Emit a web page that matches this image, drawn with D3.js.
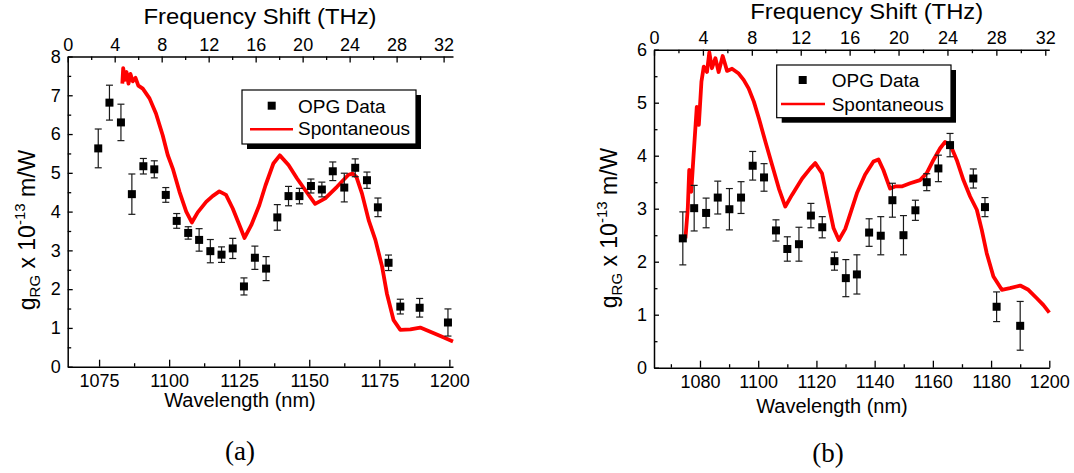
<!DOCTYPE html>
<html>
<head>
<meta charset="utf-8">
<script src="https://cdn.jsdelivr.net/npm/d3@7"></script>
<style>
  html, body { margin: 0; padding: 0; background: #ffffff; }
  svg { display: block; }
  text { font-family: "Liberation Sans", Arial, sans-serif; fill: #000; }
</style>
</head>
<body>
<script>
// ---------------- DATA ----------------
// Panel (a): OPG data
const opgA_wavelength = [1074.7, 1078.7, 1082.8, 1086.7, 1090.8, 1094.7, 1098.8, 1102.7, 1106.8, 1110.7, 1114.7, 1118.7, 1122.7, 1126.7, 1130.6, 1134.6, 1138.6, 1142.6, 1146.5, 1150.6, 1154.5, 1158.4, 1162.5, 1166.4, 1170.6, 1174.5, 1178.3, 1182.5, 1189.4, 1199.5];
const opgA_gain = [5.63, 6.81, 6.30, 4.45, 5.17, 5.09, 4.43, 3.76, 3.45, 3.27, 2.98, 2.89, 3.05, 2.07, 2.81, 2.53, 3.85, 4.40, 4.40, 4.66, 4.57, 5.04, 4.62, 5.13, 4.81, 4.11, 2.68, 1.55, 1.52, 1.14];
const opgA_error = [0.50, 0.45, 0.47, 0.52, 0.20, 0.22, 0.19, 0.19, 0.16, 0.29, 0.30, 0.20, 0.26, 0.22, 0.30, 0.31, 0.33, 0.25, 0.20, 0.18, 0.19, 0.24, 0.37, 0.23, 0.21, 0.24, 0.20, 0.19, 0.24, 0.35];
// Panel (a): spontaneous curve
const spontA_wavelength = [1083.3, 1083.6, 1084.2, 1084.8, 1085.5, 1086.2, 1087.0, 1088.0, 1089.0, 1090.6, 1093.0, 1095.3, 1097.7, 1099.5, 1101.3, 1103.7, 1106.1, 1108.1, 1110.2, 1113.2, 1115.5, 1117.9, 1120.3, 1122.7, 1125.1, 1126.9, 1129.3, 1132.2, 1134.4, 1137.2, 1139.5, 1142.6, 1145.6, 1148.6, 1152.1, 1155.7, 1159.9, 1164.0, 1165.5, 1166.8, 1168.8, 1171.2, 1173.6, 1176.0, 1177.7, 1180.1, 1182.5, 1186.1, 1189.6, 1193.2, 1196.8, 1201.3];
const spontA_gain = [7.30, 7.70, 7.40, 7.60, 7.30, 7.55, 7.36, 7.45, 7.25, 7.17, 6.92, 6.53, 5.97, 5.46, 5.11, 4.51, 4.00, 3.72, 3.98, 4.25, 4.40, 4.52, 4.43, 4.08, 3.65, 3.32, 3.65, 4.17, 4.68, 5.24, 5.45, 5.20, 4.86, 4.55, 4.20, 4.34, 4.64, 4.95, 4.98, 4.90, 4.47, 3.78, 3.27, 2.58, 1.89, 1.20, 0.95, 0.96, 1.01, 0.90, 0.79, 0.65];

// Panel (b): OPG data
const opgB_wavelength = [1074.1, 1078.0, 1082.1, 1086.1, 1090.1, 1094.1, 1098.1, 1102.0, 1106.1, 1110.0, 1114.0, 1118.1, 1122.0, 1126.2, 1130.1, 1133.9, 1138.1, 1142.1, 1146.1, 1149.9, 1154.0, 1157.9, 1161.9, 1165.9, 1173.9, 1177.9, 1181.9, 1190.0];
const opgB_gain = [2.44, 3.01, 2.92, 3.21, 2.99, 3.21, 3.81, 3.59, 2.59, 2.24, 2.33, 2.87, 2.65, 2.01, 1.69, 1.76, 2.55, 2.49, 3.16, 2.50, 2.97, 3.50, 3.76, 4.20, 3.57, 3.03, 1.15, 0.79];
const opgB_error = [0.50, 0.43, 0.28, 0.31, 0.39, 0.30, 0.27, 0.26, 0.20, 0.23, 0.32, 0.23, 0.20, 0.17, 0.35, 0.37, 0.26, 0.36, 0.32, 0.37, 0.19, 0.16, 0.25, 0.22, 0.18, 0.18, 0.28, 0.46];
// Panel (b): spontaneous curve
const spontB_wavelength = [1075.0, 1075.8, 1076.3, 1077.0, 1077.8, 1078.9, 1079.6, 1080.5, 1081.3, 1082.4, 1083.2, 1084.1, 1085.3, 1086.4, 1087.8, 1089.3, 1091.0, 1093.3, 1095.0, 1096.7, 1098.5, 1100.2, 1102.5, 1104.8, 1107.1, 1109.3, 1111.6, 1115.1, 1117.9, 1119.6, 1121.9, 1124.2, 1125.9, 1127.7, 1129.9, 1131.0, 1133.9, 1136.7, 1139.6, 1141.3, 1143.0, 1145.3, 1147.0, 1149.3, 1152.2, 1155.6, 1157.9, 1160.2, 1162.5, 1164.2, 1166.5, 1168.2, 1170.5, 1172.8, 1175.1, 1176.8, 1178.5, 1180.8, 1183.7, 1186.5, 1190.0, 1192.8, 1195.7, 1198.0, 1200.0];
const spontB_gain = [2.44, 3.00, 3.73, 3.32, 4.01, 4.92, 4.58, 5.40, 5.68, 5.58, 5.95, 5.65, 5.84, 5.58, 5.88, 5.60, 5.64, 5.55, 5.43, 5.27, 5.02, 4.71, 4.26, 3.82, 3.38, 3.04, 3.26, 3.57, 3.76, 3.86, 3.67, 3.07, 2.63, 2.41, 2.62, 2.80, 3.29, 3.64, 3.89, 3.93, 3.73, 3.38, 3.42, 3.42, 3.48, 3.54, 3.67, 3.92, 4.14, 4.26, 4.14, 3.92, 3.54, 3.23, 2.98, 2.60, 2.16, 1.72, 1.47, 1.50, 1.55, 1.47, 1.31, 1.18, 1.04];

// Tick labels
const bottomTicksA = [1075, 1100, 1125, 1150, 1175, 1200];
const bottomTicksB = [1080, 1100, 1120, 1140, 1160, 1180, 1200];
const topTicks = [0, 4, 8, 12, 16, 20, 24, 28, 32];
const leftTicksA = [0, 1, 2, 3, 4, 5, 6, 7, 8];
const leftTicksB = [0, 1, 2, 3, 4, 5, 6];
const legendLabels = ["OPG Data", "Spontaneous"];
const panelLabels = ["(a)", "(b)"];

// ---------------- DRAWING ----------------
const svg = d3.select("body").append("svg").attr("width", 1074).attr("height", 473);

function drawPanel(cfg) {
  const x = d3.scaleLinear().domain(cfg.xDomain).range(cfg.xRange);
  const y = d3.scaleLinear().domain(cfg.yDomain).range(cfg.yRange);
  const xt = d3.scaleLinear().domain(cfg.topDomain).range(cfg.xRange);
  const g = svg.append("g");
  const x0 = cfg.xRange[0], yb = cfg.yRange[0], yt = cfg.yRange[1];

  function styleAxis(sel) {
    sel.selectAll(".domain").attr("stroke", "#000").attr("stroke-width", 1.5);
    sel.selectAll(".tick line").attr("stroke", "#000").attr("stroke-width", 1.3);
    sel.selectAll("text").attr("font-size", 18).attr("font-family", "Liberation Sans, Arial, sans-serif").attr("fill", "#000");
  }

  // minor ticks
  const bMinor = g.append("g").attr("transform", `translate(0,${yb})`)
    .call(d3.axisBottom(x).tickValues(cfg.bottomMinor).tickSize(-3.5).tickSizeOuter(0).tickFormat(""));
  styleAxis(bMinor); bMinor.select(".domain").remove();
  const tMinor = g.append("g").attr("transform", `translate(0,${yt})`)
    .call(d3.axisTop(xt).tickValues(d3.range(2, cfg.topDomain[1], 4)).tickSize(-3.5).tickSizeOuter(0).tickFormat(""));
  styleAxis(tMinor); tMinor.select(".domain").remove();
  const lMinor = g.append("g").attr("transform", `translate(${x0},0)`)
    .call(d3.axisLeft(y).tickValues(d3.range(0.5, cfg.yDomain[1], 1)).tickSize(-3.5).tickSizeOuter(0).tickFormat(""));
  styleAxis(lMinor); lMinor.select(".domain").remove();

  // major axes
  const bAx = g.append("g").attr("transform", `translate(0,${yb})`)
    .call(d3.axisBottom(x).tickValues(cfg.bottomTicks).tickSize(-7).tickSizeOuter(0).tickPadding(8).tickFormat(d3.format("d")));
  styleAxis(bAx);
  const tAx = g.append("g").attr("transform", `translate(0,${yt})`)
    .call(d3.axisTop(xt).tickValues(topTicks).tickSize(-6).tickSizeOuter(0).tickPadding(5.5).tickFormat(d3.format("d")));
  styleAxis(tAx);
  const lAx = g.append("g").attr("transform", `translate(${x0},0)`)
    .call(d3.axisLeft(y).tickValues(cfg.leftTicks).tickSize(-5).tickSizeOuter(0).tickPadding(7).tickFormat(d3.format("d")));
  styleAxis(lAx);

  // spontaneous curve
  const pts = cfg.spontX.map((v, i) => [v, cfg.spontY[i]]);
  g.append("path").datum(pts)
    .attr("fill", "none").attr("stroke", "#ff0000").attr("stroke-width", 3.8)
    .attr("stroke-linejoin", "round")
    .attr("d", d3.line().x(d => x(d[0])).y(d => y(d[1])));

  // OPG data with error bars
  const opg = cfg.opgX.map((v, i) => ({ w: v, g: cfg.opgY[i], e: cfg.opgE[i] }));
  const eb = g.append("g").attr("stroke", "#1a1a1a").attr("stroke-width", 1.2);
  opg.forEach(d => {
    const cx = x(d.w);
    eb.append("line").attr("x1", cx).attr("x2", cx).attr("y1", y(d.g - d.e)).attr("y2", y(d.g + d.e));
    eb.append("line").attr("x1", cx - 3.5).attr("x2", cx + 3.5).attr("y1", y(d.g - d.e)).attr("y2", y(d.g - d.e));
    eb.append("line").attr("x1", cx - 3.5).attr("x2", cx + 3.5).attr("y1", y(d.g + d.e)).attr("y2", y(d.g + d.e));
  });
  g.append("g").selectAll("rect").data(opg).join("rect")
    .attr("x", d => x(d.w) - 4).attr("y", d => y(d.g) - 4)
    .attr("width", 8).attr("height", 8).attr("fill", "#000");

  // legend
  const L = cfg.legend;
  g.append("rect").attr("x", L.x + 5).attr("y", L.y + 5).attr("width", L.w).attr("height", L.h).attr("fill", "#000");
  g.append("rect").attr("x", L.x).attr("y", L.y).attr("width", L.w).attr("height", L.h)
    .attr("fill", "#fff").attr("stroke", "#000").attr("stroke-width", 1.2);
  g.append("rect").attr("x", L.mx - 4).attr("y", L.my1 - 4).attr("width", 8).attr("height", 8).attr("fill", "#000");
  g.append("line").attr("x1", L.lx0).attr("x2", L.lx1).attr("y1", L.my2).attr("y2", L.my2)
    .attr("stroke", "#ff0000").attr("stroke-width", 2.5);
  g.append("text").attr("x", L.tx).attr("y", L.ty1).attr("font-size", 19).text(legendLabels[0]);
  g.append("text").attr("x", L.tx).attr("y", L.ty2).attr("font-size", 19).text(legendLabels[1]);

  // axis titles
  g.append("text").attr("x", cfg.topTitle[0]).attr("y", cfg.topTitle[1])
    .attr("text-anchor", "middle").attr("font-size", 22)
    .attr("textLength", 233).attr("lengthAdjust", "spacingAndGlyphs")
    .text("Frequency Shift (THz)");
  g.append("text").attr("x", cfg.bottomTitle[0]).attr("y", cfg.bottomTitle[1])
    .attr("text-anchor", "middle").attr("font-size", 20)
    .text("Wavelength (nm)");
  const yt_ = g.append("text")
    .attr("transform", `translate(${cfg.leftTitle[0]},${cfg.leftTitle[1]}) rotate(-90)`)
    .attr("text-anchor", "middle").attr("font-size", 23);
  yt_.append("tspan").text("g");
  yt_.append("tspan").attr("font-size", 15).attr("dy", 5).text("RG");
  yt_.append("tspan").attr("dy", -5).text(" x 10");
  yt_.append("tspan").attr("font-size", 15).attr("dy", -10).text("-13");
  yt_.append("tspan").attr("dy", 10).text(" m/W");

  // panel label
  g.append("text").attr("x", cfg.panelLabel[0]).attr("y", cfg.panelLabel[1])
    .attr("text-anchor", "middle").attr("font-size", 27)
    .style("font-family", "'Liberation Serif', 'Times New Roman', serif")
    .text(cfg.panelText);
}

drawPanel({
  xDomain: [1063.8, 1201.3], xRange: [67.7, 453],
  yDomain: [0, 8], yRange: [366.7, 56.5],
  topDomain: [0, 32.8],
  bottomTicks: bottomTicksA, bottomMinor: d3.range(1087.5, 1200, 25),
  leftTicks: leftTicksA,
  opgX: opgA_wavelength, opgY: opgA_gain, opgE: opgA_error,
  spontX: spontA_wavelength, spontY: spontA_gain,
  legend: { x: 242, y: 90, w: 174, h: 54, mx: 271.7, my1: 105.7, my2: 129.3, lx0: 250, lx1: 293, tx: 298, ty1: 113, ty2: 135 },
  topTitle: [260, 24], bottomTitle: [240, 407], leftTitle: [35, 230],
  panelLabel: [240, 460], panelText: panelLabels[0]
});

drawPanel({
  xDomain: [1064.2, 1200], xRange: [654, 1049.3],
  yDomain: [0, 6], yRange: [367.7, 49.7],
  topDomain: [0, 32.33],
  bottomTicks: bottomTicksB, bottomMinor: d3.range(1070, 1200, 20),
  leftTicks: leftTicksB,
  opgX: opgB_wavelength, opgY: opgB_gain, opgE: opgB_error,
  spontX: spontB_wavelength, spontY: spontB_gain,
  legend: { x: 776.7, y: 65, w: 174.3, h: 52.7, mx: 802.7, my1: 80, my2: 104, lx0: 781, lx1: 825, tx: 831.7, ty1: 87.3, ty2: 110.5 },
  topTitle: [866.7, 19], bottomTitle: [832, 413], leftTitle: [617, 228],
  panelLabel: [828, 462], panelText: panelLabels[1]
});
</script>
</body>
</html>
